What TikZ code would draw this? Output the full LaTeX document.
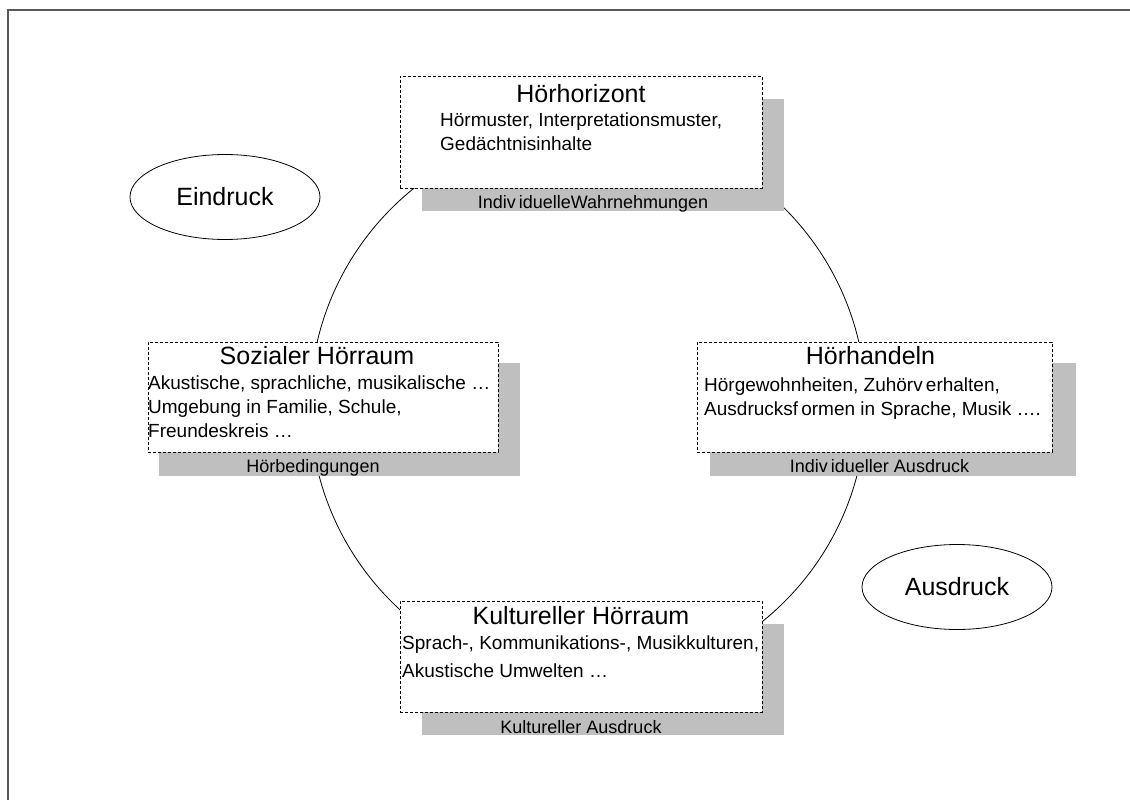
\documentclass[tikz,border=0pt]{standalone}
\usepackage{fontspec}
\setmainfont{Liberation Sans}
\usetikzlibrary{positioning,shapes,shadows}
\tikzset{
	frame/.style={draw=black!65, line width=1.5pt},
	ring/.style={circle, draw, line width=0.8pt, minimum size=556pt, inner sep=0pt},
	box/.style={draw, dash pattern=on 3pt off 2pt, line width=0.8pt, fill=white,
		minimum width=362pt, minimum height=112pt, inner sep=0pt,
		drop shadow={shadow xshift=22pt, shadow yshift=-23pt, fill=gray!50, opacity=1}},
	sidebox/.style={box, minimum height=110pt,
		drop shadow={shadow xshift=#1, shadow yshift=-22pt, shadow scale=1.03, fill=gray!50, opacity=1}},
	title/.style={font=\fontsize{25}{30}\selectfont, inner sep=0pt},
	body/.style={font=\fontsize{19}{24}\selectfont, align=left, inner sep=0pt},
	shlabel/.style={font=\fontsize{18}{20}\selectfont, inner sep=0pt},
	mood/.style={ellipse, draw, line width=0.8pt, minimum width=190pt, minimum height=85pt,
		font=\fontsize{25}{30}\selectfont},
}

\begin{document}
\begin{tikzpicture}[x=1pt, y=-1pt]
	\useasboundingbox (0,0) rectangle (1130,800);
	\draw[frame] (8,800) -- (8,10) -- (1130,10);

	\node[ring] (ring) at (588,405) {};

	\node[mood] (eindruck) at (225,197) {Eindruck};
	\node[mood] (ausdruck) at (957,587) {Ausdruck};

	\node[box] (horizont) at (581,132) {};
	\node[title, anchor=base] (horizont-t) at ([yshift=-27pt]horizont.north) {Hörhorizont};
	\node[body, anchor=north west] (horizont-b) at (440,113)
		{Hörmuster, Interpretationsmuster,\\Gedächtnisinhalte};
	\node[shlabel, anchor=base] (horizont-l) at ([xshift=12pt, yshift=-20pt]horizont.south)
		{Indiv\,iduelleWahrnehmungen};

	\node[sidebox=16pt, minimum width=350pt] (sozial) at (323,397) {};
	\node[title, anchor=base] (sozial-t) at ([xshift=-6pt, yshift=-23pt]sozial.north) {Sozialer Hörraum};
	\node[body, anchor=north west] (sozial-b) at (148,376)
		{Akustische, sprachliche, musikalische \dots\\Umgebung in Familie, Schule,\\Freundeskreis \dots};
	\node[shlabel, anchor=base] (sozial-l) at ([xshift=-10pt, yshift=-20pt]sozial.south)
		{Hörbedingungen};

	\node[sidebox=18pt, minimum width=355pt] (handeln) at (874.5,397) {};
	\node[title, anchor=base] (handeln-t) at ([xshift=-4pt, yshift=-23pt]handeln.north) {Hörhandeln};
	\node[body, anchor=north west] (handeln-b) at (704,378)
		{Hörgewohnheiten, Zuhörv\,erhalten,\\Ausdrucksf\,ormen in Sprache, Musik \dots.};
	\node[shlabel, anchor=base] (handeln-l) at ([xshift=5pt, yshift=-20pt]handeln.south)
		{Indiv\,idueller Ausdruck};

	\node[box, minimum height=111pt] (kultur) at (581,656.5) {};
	\node[title, anchor=base] (kultur-t) at ([yshift=-24pt]kultur.north) {Kultureller Hörraum};
	\node[body, font=\fontsize{19}{28}\selectfont, anchor=north west] (kultur-b) at (402,636)
		{Sprach-, Kommunikations-, Musikkulturen,\\Akustische Umwelten \dots};
	\node[shlabel, anchor=base] (kultur-l) at ([yshift=-21pt]kultur.south)
		{Kultureller Ausdruck};
\end{tikzpicture}
\end{document}
